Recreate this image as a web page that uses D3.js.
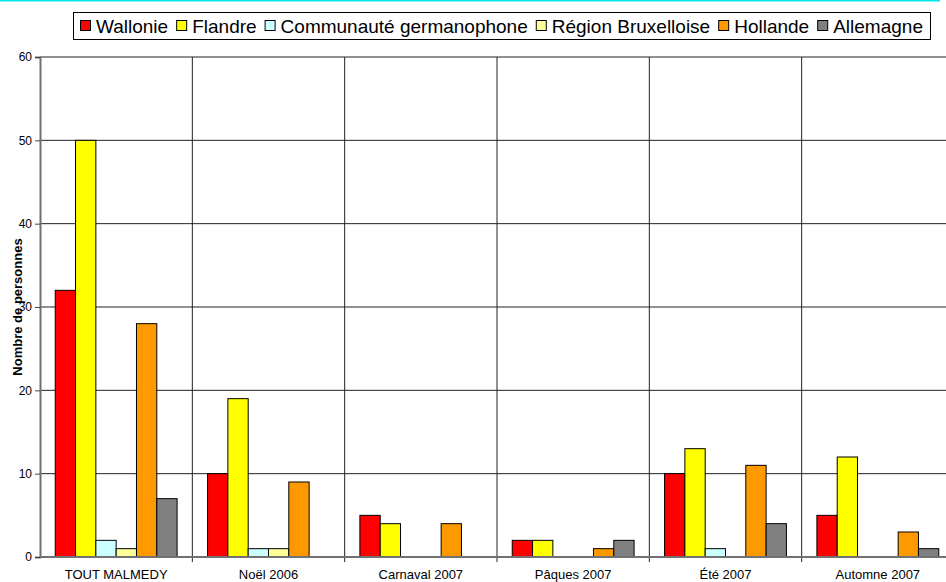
<!DOCTYPE html>
<html lang="fr">
<head>
    <meta charset="UTF-8">
    <script src="https://d3js.org/d3.v7.min.js"></script>
    <title>Nombre de personnes par région</title>
    <style>
        body { margin: 0; background: #fff; }
        text { font-family: "Liberation Sans", Arial, sans-serif; }
    </style>
</head>
<body>
<svg width="946" height="582" id="chart"></svg>
<script>
    // Data
    const categories = ["TOUT MALMEDY", "Noël 2006", "Carnaval 2007", "Pâques 2007", "Été 2007", "Automne 2007"];
    const seriesNames = ["Wallonie", "Flandre", "Communauté germanophone", "Région Bruxelloise", "Hollande", "Allemagne"];
    const wallonie = [32, 10, 5, 2, 10, 5];
    const flandre = [50, 19, 4, 2, 13, 12];
    const germanophone = [2, 1, 0, 0, 1, 0];
    const bruxelles = [1, 1, 0, 0, 0, 0];
    const hollande = [28, 9, 4, 1, 11, 3];
    const allemagne = [7, 0, 0, 2, 4, 1];
    const yTicks = [0, 10, 20, 30, 40, 50, 60];

    const series = [wallonie, flandre, germanophone, bruxelles, hollande, allemagne];
    const colors = ["#ff0000", "#ffff00", "#ccffff", "#ffff99", "#ff9900", "#808080"];

    const svg = d3.select("#chart");

    // cyan line at the very top
    svg.append("line")
        .attr("x1", 0).attr("x2", 940)
        .attr("y1", 0.5).attr("y2", 0.5)
        .style("stroke", "#00e5e5")
        .style("stroke-width", 2);

    // plot area
    const plotLeft = 40, plotRight = 954, plotTop = 57, plotBottom = 557;

    const x = d3.scaleBand()
        .domain(categories)
        .range([plotLeft, plotRight]);

    const y = d3.scaleLinear()
        .domain([0, 60])
        .range([plotBottom, plotTop]);

    // inner band for the six bars (gap = 1.5 bar widths)
    const xInner = d3.scaleBand()
        .domain(d3.range(seriesNames.length))
        .range([0, x.bandwidth()])
        .paddingOuter(0.75);

    // horizontal grid lines
    svg.append("g")
        .selectAll("line")
        .data(yTicks.filter(t => t > 0))
        .enter()
        .append("line")
        .attr("x1", plotLeft).attr("x2", plotRight)
        .attr("y1", d => y(d)).attr("y2", d => y(d))
        .style("stroke", "#222")
        .style("stroke-width", 1);

    // vertical grid lines between categories
    svg.append("g")
        .selectAll("line")
        .data(categories.slice(1))
        .enter()
        .append("line")
        .attr("x1", d => x(d)).attr("x2", d => x(d))
        .attr("y1", plotTop).attr("y2", plotBottom + 5)
        .style("stroke", "#222")
        .style("stroke-width", 1);

    // bars
    categories.forEach((cat, j) => {
        series.forEach((vals, i) => {
            if (vals[j] <= 0) return;
            svg.append("rect")
                .attr("x", x(cat) + xInner(i))
                .attr("y", y(vals[j]))
                .attr("width", xInner.bandwidth())
                .attr("height", y(0) - y(vals[j]))
                .style("fill", colors[i])
                .style("stroke", "#000")
                .style("stroke-width", 1);
        });
    });

    // y axis
    const yAxis = svg.append("g")
        .attr("transform", `translate(${plotLeft},0)`)
        .call(d3.axisLeft(y).tickValues(yTicks).tickSize(5).tickPadding(3));
    yAxis.select(".domain").style("stroke", "#707070").style("stroke-width", 2);
    yAxis.selectAll(".tick line").style("stroke", "#444");
    yAxis.selectAll(".tick text")
        .style("font-size", "12px")
        .style("fill", "#000")
        .style("font-family", "'Liberation Sans', Arial, sans-serif");

    // x axis line
    svg.append("line")
        .attr("x1", plotLeft).attr("x2", plotRight)
        .attr("y1", plotBottom).attr("y2", plotBottom)
        .style("stroke", "#707070")
        .style("stroke-width", 2);

    // category labels
    svg.append("g")
        .selectAll("text")
        .data(categories)
        .enter()
        .append("text")
        .attr("x", d => x(d) + x.bandwidth() / 2)
        .attr("y", 579)
        .attr("text-anchor", "middle")
        .style("font-size", "13px")
        .text(d => d);

    // y axis title
    svg.append("text")
        .attr("transform", "translate(22,307) rotate(-90)")
        .attr("text-anchor", "middle")
        .style("font-size", "13px")
        .style("font-weight", "bold")
        .text("Nombre de personnes");

    // legend
    const legend = svg.append("g");
    legend.append("rect")
        .attr("x", 73.5).attr("y", 12.5)
        .attr("width", 857).attr("height", 27)
        .style("fill", "#fff")
        .style("stroke", "#000");

    let lx = 80;
    seriesNames.forEach((name, i) => {
        legend.append("rect")
            .attr("x", lx + 0.5).attr("y", 20.5)
            .attr("width", 10).attr("height", 10)
            .style("fill", colors[i])
            .style("stroke", "#000");
        const t = legend.append("text")
            .attr("x", lx + 16)
            .attr("y", 33)
            .style("font-size", "19px")
            .text(name);
        lx += 16 + t.node().getComputedTextLength() + 8;
    });
</script>
</body>
</html>
